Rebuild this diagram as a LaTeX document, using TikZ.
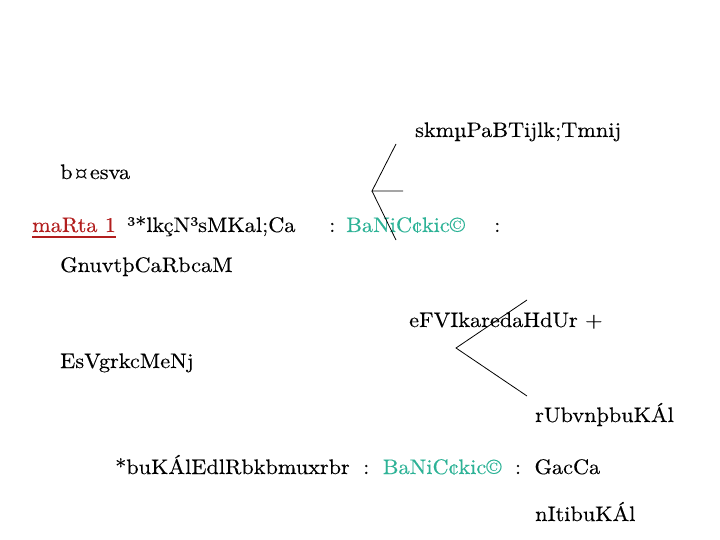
\documentclass[tikz,border=0pt]{standalone}
\usepackage{fontspec}
\setmainfont{lmroman10-regular.otf}[FakeStretch=1.06, FakeBold=0.3]
\usepackage{tikz}
\usetikzlibrary{calc}
\definecolor{tealtxt}{RGB}{45,178,150}
\definecolor{redtxt}{RGB}{178,30,30}
\tikzset{
  txt/.style={anchor=base west, inner sep=0pt, font=\fontsize{21}{25}\selectfont},
  grn/.style={txt, text=tealtxt},
  brk/.style={line width=0.8pt}
}

\begin{document}
\begin{tikzpicture}[x=1pt,y=-1pt]
\useasboundingbox (0,0) rectangle (720,540);

\node[txt] (t1) at (415,137) {skmµPaBTijlk;Tmnij};
\node[txt] (t2) at (60,179) {b¤esva};

\node[txt, text=redtxt] (mr) at (32,232) {maRta 1};
\draw[redtxt, line width=2.4pt] ($(mr.base west)+(0,5)$) -- ($(mr.base east)+(0,5)$);
\node[txt] (t3) at (127,232) {³*lkçN³sMKal;Ca};
\node[txt] (c1) at (329,232) {:};
\node[grn] (b1) at (346,232) {BaNiC¢kic©};
\node[txt] (c2) at (494,232) {:};

\node[txt] (t4) at (60,272) {GnuvtþCaRbcaM};
\node[txt] (t5) at (409,327) {eFVIkaredaHdUr +};
\node[txt] (t6) at (60,368) {EsVgrkcMeNj};
\node[txt] (t7) at (535,422) {rUbvnþbuKÁl};

\node[txt] (t8) at (115,474) {*buKÁlEdlRbkbmuxrbr};
\node[txt] (c3) at ($(t8.base east)+(13,0)$) {:};
\node[grn] (b2) at ($(c3.base east)+(13,0)$) {BaNiC¢kic©};
\node[txt] (c4) at ($(b2.base east)+(13,0)$) {:};
\node[txt] (t9) at ($(c4.base east)+(13,0)$) {GacCa};

\node[txt] (t10) at (535,521) {nItibuKÁl};

% upper bracket
\coordinate (v1) at (372,191);
\coordinate (u1) at (396,144);
\coordinate (r1) at (403,191);
\coordinate (d1) at (396,240);
\draw[brk] (u1) -- (v1) -- (r1);
\draw[brk] (v1) -- (d1);

% lower bracket
\coordinate (v2) at (456,348);
\coordinate (u2) at (527,300);
\coordinate (d2) at (527,396);
\draw[brk] (u2) -- (v2) -- (d2);
\end{tikzpicture}
\end{document}
